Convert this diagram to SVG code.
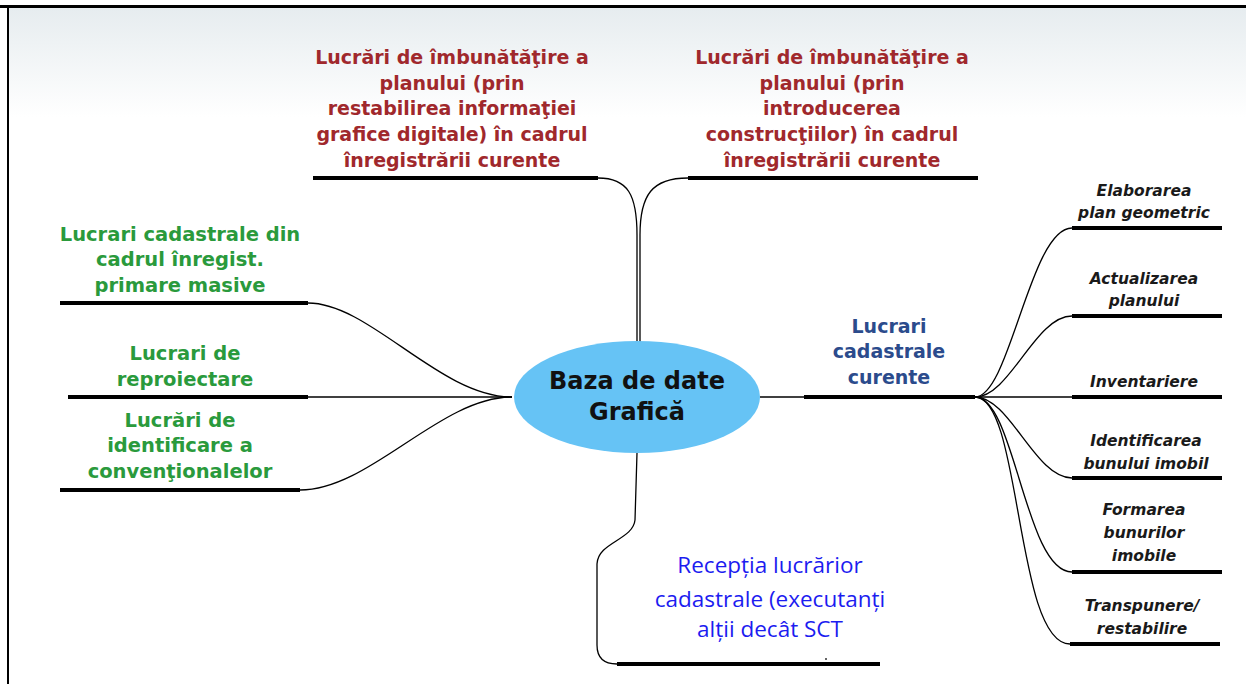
<svg xmlns="http://www.w3.org/2000/svg" width="1246" height="684" viewBox="0 0 1246 684">
<style>
.bar{stroke:#000;stroke-width:4;stroke-linecap:butt;fill:none}
.con{stroke:#000;stroke-width:1.3;fill:none}
.red{font-family:"DejaVu Sans",Verdana,sans-serif;font-weight:bold;font-size:19px;fill:#a0282c;text-anchor:middle}
.green{font-family:"DejaVu Sans",Verdana,sans-serif;font-weight:bold;font-size:19.5px;fill:#2a9a3c;text-anchor:middle}
.navy{font-family:"DejaVu Sans",Verdana,sans-serif;font-weight:bold;font-size:19px;fill:#2b4b8c;text-anchor:middle}
.ital{font-family:"DejaVu Sans",Verdana,sans-serif;font-weight:bold;font-style:italic;font-size:15.5px;fill:#1a1a1a;text-anchor:middle}
.blue{font-family:"Open Sans","Liberation Sans",sans-serif;font-size:22.5px;fill:#1c1cf0;text-anchor:middle}
.center{font-family:"DejaVu Sans",Verdana,sans-serif;font-weight:bold;font-size:24px;fill:#111;text-anchor:middle}
</style>
<defs>
<linearGradient id="bg" x1="0" y1="0" x2="0" y2="1">
<stop offset="0" stop-color="#e6ecef"/>
<stop offset="1" stop-color="#ffffff"/>
</linearGradient>
</defs>
<rect x="0" y="0" width="1246" height="684" fill="#fff"/>
<rect x="8" y="7" width="1238" height="110" fill="url(#bg)"/>
<line x1="0" y1="6.5" x2="1246" y2="6.5" stroke="#000" stroke-width="3"/>
<line x1="8" y1="6" x2="8" y2="684" stroke="#000" stroke-width="2"/>

<g id="connectors">
<path class="con" d="M598,178 C628,178 637,195 637,235 L637,360"/>
<path class="con" d="M688,178 C652,178 640,195 640,235 L640,360"/>
<path class="con" d="M308,303 C370,303 440,397 512,397"/>
<path class="con" d="M308,397 L512,397"/>
<path class="con" d="M300,490 C370,490 440,397 512,397"/>
<path class="con" d="M760,397 L804,397"/>
<path class="con" d="M637,453 L635,520 C633,540 598,542 597,564 L597,645 C597,658 604,664 617,664"/>
<path class="con" d="M975,397 C1010,397 1030,228 1072,228"/>
<path class="con" d="M975,397 C1010,397 1035,316 1072,316"/>
<path class="con" d="M975,397 L1072,397"/>
<path class="con" d="M975,397 C1010,397 1035,478 1072,478"/>
<path class="con" d="M975,397 C1015,397 1025,572 1072,572"/>
<path class="con" d="M975,397 C1022,397 1015,644 1070,644"/>
</g>

<g id="center">
<ellipse cx="637" cy="397" rx="123" ry="56" fill="#66c3f5"/>
<text class="center" x="637" y="389">Baza de date</text>
<text class="center" x="637" y="420">Grafică</text>
</g>

<g id="n-top-left">
<line class="bar" x1="313" y1="178" x2="598" y2="178"/>
<text class="red" x="452" y="64">Lucrări de îmbunătăţire a</text>
<text class="red" x="452" y="90">planului (prin</text>
<text class="red" x="452" y="115">restabilirea informaţiei</text>
<text class="red" x="452" y="141">grafice digitale) în cadrul</text>
<text class="red" x="452" y="167">înregistrării curente</text>
</g>

<g id="n-top-right">
<line class="bar" x1="688" y1="178" x2="978" y2="178"/>
<text class="red" x="832" y="64">Lucrări de îmbunătăţire a</text>
<text class="red" x="832" y="90">planului (prin</text>
<text class="red" x="832" y="115">introducerea</text>
<text class="red" x="832" y="141">construcţiilor) în cadrul</text>
<text class="red" x="832" y="167">înregistrării curente</text>
</g>

<g id="n-left-1">
<line class="bar" x1="60" y1="303" x2="308" y2="303"/>
<text class="green" x="180" y="241">Lucrari cadastrale din</text>
<text class="green" x="180" y="266">cadrul înregist.</text>
<text class="green" x="180" y="292">primare masive</text>
</g>

<g id="n-left-2">
<line class="bar" x1="68" y1="397" x2="308" y2="397"/>
<text class="green" x="185" y="360">Lucrari de</text>
<text class="green" x="185" y="386">reproiectare</text>
</g>

<g id="n-left-3">
<line class="bar" x1="60" y1="490" x2="300" y2="490"/>
<text class="green" x="180" y="427">Lucrări de</text>
<text class="green" x="180" y="452">identificare a</text>
<text class="green" x="180" y="478">convenţionalelor</text>
</g>

<g id="n-curente">
<line class="bar" x1="804" y1="397" x2="975" y2="397"/>
<text class="navy" x="889" y="333">Lucrari</text>
<text class="navy" x="889" y="358">cadastrale</text>
<text class="navy" x="889" y="384">curente</text>
</g>

<g id="n-elaborarea">
<line class="bar" x1="1072" y1="228" x2="1222" y2="228"/>
<text class="ital" x="1144" y="196">Elaborarea</text>
<text class="ital" x="1144" y="218">plan geometric</text>
</g>

<g id="n-actualizarea">
<line class="bar" x1="1072" y1="316" x2="1222" y2="316"/>
<text class="ital" x="1144" y="284">Actualizarea</text>
<text class="ital" x="1144" y="306">planului</text>
</g>

<g id="n-inventariere">
<line class="bar" x1="1072" y1="397" x2="1222" y2="397"/>
<text class="ital" x="1144" y="387">Inventariere</text>
</g>

<g id="n-identificarea">
<line class="bar" x1="1072" y1="478" x2="1222" y2="478"/>
<text class="ital" x="1146" y="446">Identificarea</text>
<text class="ital" x="1146" y="469">bunului imobil</text>
</g>

<g id="n-formarea">
<line class="bar" x1="1072" y1="572" x2="1222" y2="572"/>
<text class="ital" x="1144" y="515">Formarea</text>
<text class="ital" x="1144" y="538">bunurilor</text>
<text class="ital" x="1144" y="561">imobile</text>
</g>

<g id="n-transpunere">
<line class="bar" x1="1070" y1="644" x2="1220" y2="644"/>
<text class="ital" x="1142" y="611">Transpunere/</text>
<text class="ital" x="1142" y="634">restabilire</text>
</g>

<g id="n-receptia">
<line class="bar" x1="617" y1="664" x2="880" y2="664"/>
<text class="blue" x="770" y="573">Recepția lucrărior</text>
<text class="blue" x="770" y="607">cadastrale (executanți</text>
<text class="blue" x="770" y="637">alții decât SCT</text>
<circle cx="826" cy="659" r="1" fill="#333"/>
</g>
</svg>
